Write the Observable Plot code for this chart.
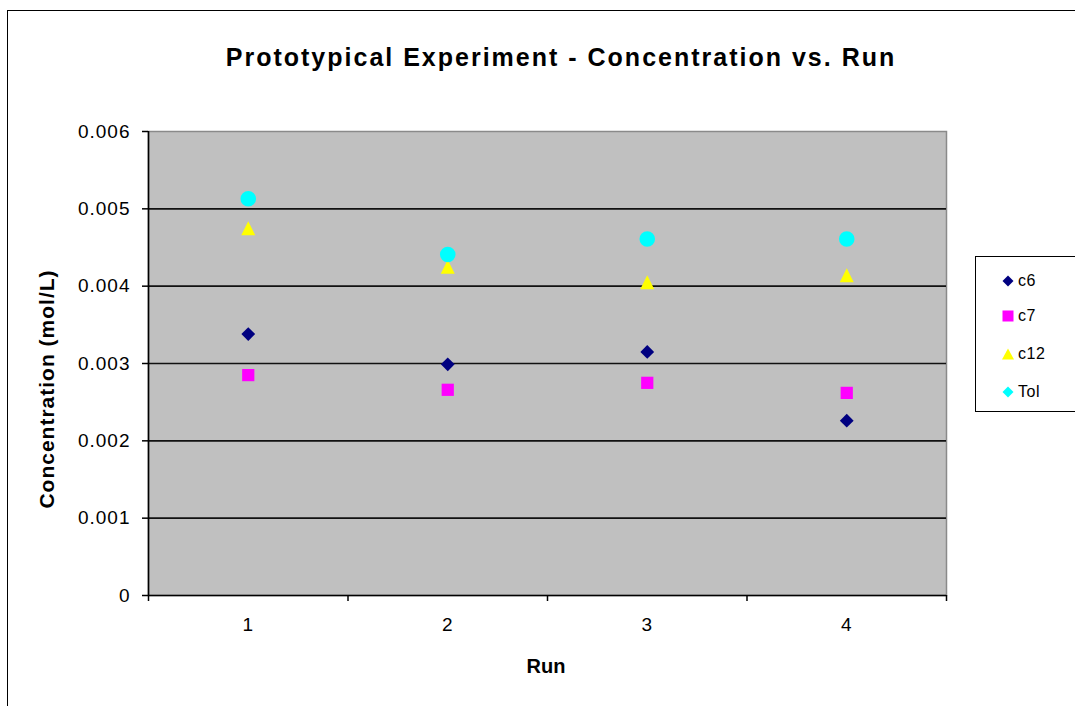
<!DOCTYPE html>
<html>
<head>
<meta charset="utf-8">
<script src="https://cdn.jsdelivr.net/npm/d3@7"></script>
<script src="https://cdn.jsdelivr.net/npm/@observablehq/plot@0.6"></script>
<style>
  html, body { margin: 0; padding: 0; background: #fff; }
  #wrap { position: relative; width: 1075px; height: 706px; overflow: hidden; font-family: "Liberation Sans", Arial, sans-serif; }
  #border { position: absolute; left: 7px; top: 10px; width: 1200px; height: 900px; border: 1.5px solid #000; box-sizing: border-box; }
  #chart { position: absolute; left: 0; top: 0; }
  #chart svg text { letter-spacing: 1px; }
  #title { position: absolute; left: 561px; top: 43px; transform: translateX(-50%); white-space: nowrap; font-weight: bold; font-size: 25px; letter-spacing: 2px; color: #000; }
  #ylabel { position: absolute; left: 47px; top: 389px; transform: translate(-50%, -50%) rotate(-90deg); white-space: nowrap; font-weight: bold; font-size: 21px; letter-spacing: 1px; color: #000; }
  #xlabel { position: absolute; left: 546px; top: 655px; transform: translateX(-50%); white-space: nowrap; font-weight: bold; font-size: 20px; color: #000; }
  #legend { position: absolute; left: 975px; top: 256px; width: 200px; height: 156px; border: 1.5px solid #000; box-sizing: border-box; background: #fff; }
  .lrow { position: absolute; left: 26px; height: 20px; display: flex; align-items: center; font-size: 16px; letter-spacing: 0.5px; color: #000; }
  .lrow svg { margin-right: 4px; }
</style>
</head>
<body>
<div id="wrap">
  <div id="border"></div>
  <div id="chart"></div>
  <div id="title"></div>
  <div id="ylabel"></div>
  <div id="xlabel"></div>
  <div id="legend"></div>
</div>
<script>
// ---- Data ----
const runs = [1, 2, 3, 4];
const c6  = [0.00338, 0.00299, 0.00315, 0.00226];
const c7  = [0.00285, 0.00266, 0.00275, 0.00262];
const c12 = [0.00475, 0.00425, 0.00405, 0.00414];
const tol = [0.00513, 0.00441, 0.00461, 0.00461];
const seriesNames  = ["c6", "c7", "c12", "Tol"];
const seriesColors = ["#000080", "#ff00ff", "#ffff00", "#00ffff"];
const yTicks = [0, 0.001, 0.002, 0.003, 0.004, 0.005, 0.006];
const yTickLabels = ["0", "0.001", "0.002", "0.003", "0.004", "0.005", "0.006"];
const runBounds = [0.5, 1.5, 2.5, 3.5, 4.5];
const titleText = "Prototypical Experiment - Concentration vs. Run";
const yLabelText = "Concentration (mol/L)";
const xLabelText = "Run";

// ---- Custom marker symbols ----
const diamondSym = { draw(ctx, size) { const h = Math.sqrt(size / 2); ctx.moveTo(0, -h); ctx.lineTo(h, 0); ctx.lineTo(0, h); ctx.lineTo(-h, 0); ctx.closePath(); } };
const squareSym  = { draw(ctx, size) { const s = Math.sqrt(size) / 2; ctx.rect(-s, -s, 2 * s, 2 * s); } };
const triangleSym = { draw(ctx, size) { const w = Math.sqrt(2 * size) / 2; ctx.moveTo(0, -w); ctx.lineTo(w, w); ctx.lineTo(-w, w); ctx.closePath(); } };
const circleSym = { draw(ctx, size) { const r = Math.sqrt(size / Math.PI); ctx.moveTo(r, 0); ctx.arc(0, 0, r, 0, 2 * Math.PI); } };

const rows = runs.map((r, i) => ({ run: r, c6: c6[i], c7: c7[i], c12: c12[i], tol: tol[i] }));

const chart = Plot.plot({
  width: 1075,
  height: 706,
  marginLeft: 148,
  marginRight: 129,
  marginTop: 131,
  marginBottom: 111,
  style: { fontFamily: "'Liberation Sans', Arial, sans-serif", background: "transparent", color: "#000" },
  x: { type: "linear", domain: [0.5, 4.5] },
  y: { domain: [0, 0.006] },
  marks: [
    Plot.frame({ fill: "#c0c0c0", stroke: "#8a8a8a", strokeWidth: 1.5 }),
    Plot.ruleY(yTicks.slice(1, -1), { stroke: "#111", strokeWidth: 1.6 }),
    Plot.ruleX([0.5], { stroke: "#000", strokeWidth: 1.6 }),
    Plot.ruleY([0], { stroke: "#000", strokeWidth: 1.6 }),
    Plot.axisY({ ticks: yTicks, tickSize: 6, tickPadding: 12, strokeWidth: 1.5, fontSize: 19, label: null,
      tickFormat: d => yTickLabels[yTicks.indexOf(d)] }),
    Plot.axisX({ ticks: runBounds, tickSize: 6, strokeWidth: 1.5, label: null, tickFormat: () => "" }),
    Plot.axisX({ ticks: runs, tickSize: 0, tickPadding: 22, fontSize: 19, label: null, tickFormat: d => String(d) }),
    Plot.dot(rows, { x: "run", y: "c6",  symbol: diamondSym,  r: 5.5, fill: seriesColors[0], stroke: "none" }),
    Plot.dot(rows, { x: "run", y: "c7",  symbol: squareSym,   r: 6.9, fill: seriesColors[1], stroke: "none" }),
    Plot.dot(rows, { x: "run", y: "c12", symbol: triangleSym, r: 5.6, fill: seriesColors[2], stroke: "none" }),
    Plot.dot(rows, { x: "run", y: "tol", symbol: circleSym,   r: 7.8, fill: seriesColors[3], stroke: "none" })
  ]
});
document.getElementById("chart").appendChild(chart);

document.getElementById("title").textContent = titleText;
document.getElementById("ylabel").textContent = yLabelText;
document.getElementById("xlabel").textContent = xLabelText;

// ---- Legend ----
const legendShapes = [
  '<path d="M6,0.5 L11.5,6 L6,11.5 L0.5,6 Z"/>',
  '<rect x="0.5" y="0.5" width="11" height="11"/>',
  '<path d="M6,0.5 L12,11.5 L0,11.5 Z"/>',
  '<path d="M6,0.5 L11.5,6 L6,11.5 L0.5,6 Z"/>'
];
const legendTops = [14, 49, 87, 125];
const legend = document.getElementById("legend");
seriesNames.forEach((name, i) => {
  const row = document.createElement("div");
  row.className = "lrow";
  row.style.top = legendTops[i] + "px";
  row.innerHTML = `<svg width="12" height="12" viewBox="0 0 12 12" fill="${seriesColors[i]}">${legendShapes[i]}</svg><span>${name}</span>`;
  legend.appendChild(row);
});
</script>
</body>
</html>
